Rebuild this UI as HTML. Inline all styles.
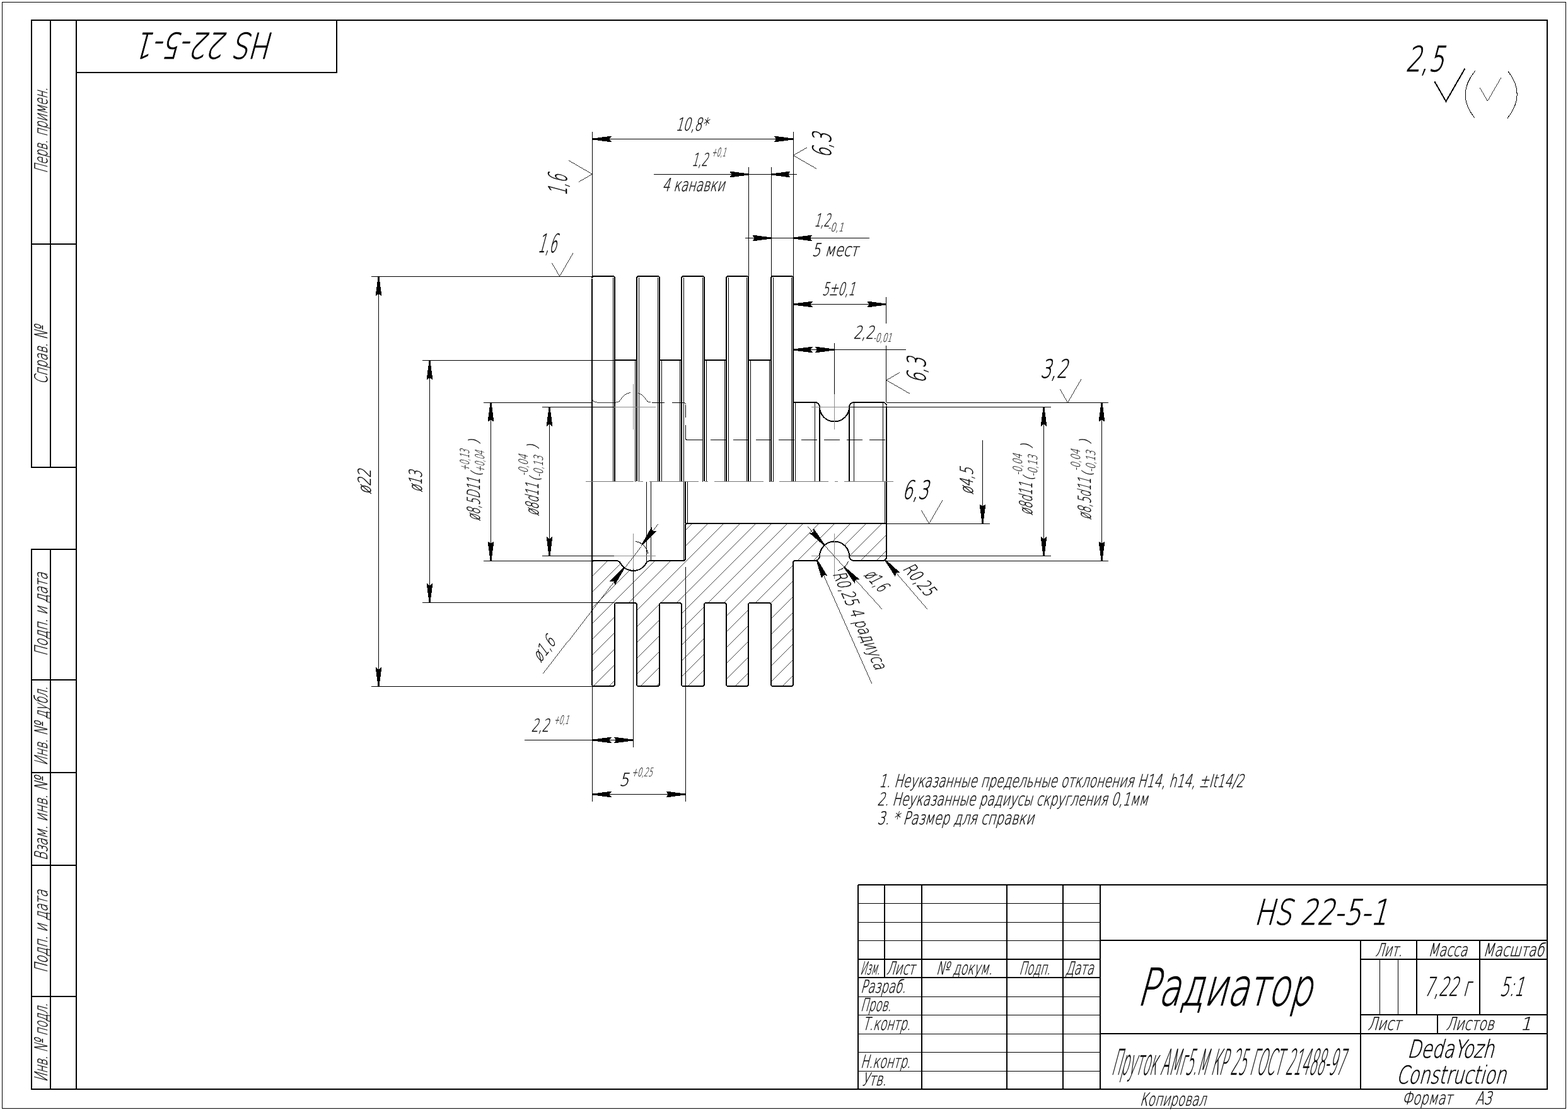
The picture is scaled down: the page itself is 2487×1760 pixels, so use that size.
<!DOCTYPE html>
<html lang="ru"><head><meta charset="utf-8"><title>HS 22-5-1 Радиатор</title>
<style>
html,body{margin:0;padding:0;background:#fff}
body{width:2487px;height:1760px;overflow:hidden}
svg{display:block;filter:grayscale(1)}
svg text{font-family:"DejaVu Sans","Liberation Sans",sans-serif;font-weight:200;fill:#000;stroke:#000}
</style></head><body>
<svg width="2487" height="1760" viewBox="0 0 2487 1760" fill="none" stroke="#000" stroke-width="1">
<rect x="0" y="0" width="2487" height="1760" fill="#fff" stroke="none"/>
<g id="frame" shape-rendering="crispEdges">
<rect x="3.5" y="3.5" width="2480" height="1754"/>
<rect x="121" y="32" width="2333" height="1695" stroke-width="2"/>
<line x1="50" y1="32" x2="50" y2="741" stroke-width="2"/>
<line x1="50" y1="871" x2="50" y2="1727" stroke-width="2"/>
<line x1="80" y1="32" x2="80" y2="741" stroke-width="2"/>
<line x1="80" y1="871" x2="80" y2="1727" stroke-width="2"/>
<line x1="49" y1="32" x2="121" y2="32" stroke-width="2"/>
<line x1="49" y1="387" x2="121" y2="387" stroke-width="2"/>
<line x1="49" y1="741" x2="121" y2="741" stroke-width="2"/>
<line x1="49" y1="871" x2="121" y2="871" stroke-width="2"/>
<line x1="49" y1="1078" x2="121" y2="1078" stroke-width="2"/>
<line x1="49" y1="1225" x2="121" y2="1225" stroke-width="2"/>
<line x1="49" y1="1372" x2="121" y2="1372" stroke-width="2"/>
<line x1="49" y1="1580" x2="121" y2="1580" stroke-width="2"/>
<line x1="49" y1="1727" x2="121" y2="1727" stroke-width="2"/>
<line x1="534" y1="32" x2="534" y2="116" stroke-width="2"/>
<line x1="121" y1="115" x2="535" y2="115" stroke-width="2"/>
<line x1="1361" y1="1403" x2="2454" y2="1403" stroke-width="2"/>
<line x1="1361" y1="1403" x2="1361" y2="1727" stroke-width="2"/>
<line x1="1462" y1="1403" x2="1462" y2="1727" stroke-width="2"/>
<line x1="1597" y1="1403" x2="1597" y2="1727" stroke-width="2"/>
<line x1="1686" y1="1403" x2="1686" y2="1727" stroke-width="2"/>
<line x1="1745" y1="1403" x2="1745" y2="1727" stroke-width="2"/>
<line x1="1403" y1="1403" x2="1403" y2="1550" stroke-width="2"/>
<line x1="1361" y1="1432.5" x2="1745" y2="1432.5"/>
<line x1="1361" y1="1462.5" x2="1745" y2="1462.5"/>
<line x1="1361" y1="1491.5" x2="1745" y2="1491.5"/>
<line x1="1361" y1="1580.5" x2="1745" y2="1580.5"/>
<line x1="1361" y1="1609.5" x2="1745" y2="1609.5"/>
<line x1="1361" y1="1639.5" x2="1745" y2="1639.5"/>
<line x1="1361" y1="1668.5" x2="1745" y2="1668.5"/>
<line x1="1361" y1="1698.5" x2="1745" y2="1698.5"/>
<line x1="1361" y1="1521" x2="1745" y2="1521" stroke-width="2"/>
<line x1="1361" y1="1550" x2="1745" y2="1550" stroke-width="2"/>
<line x1="1745" y1="1491" x2="2454" y2="1491" stroke-width="2"/>
<line x1="1745" y1="1639" x2="2454" y2="1639" stroke-width="2"/>
<line x1="2158" y1="1491" x2="2158" y2="1727" stroke-width="2"/>
<line x1="2158" y1="1521" x2="2454" y2="1521" stroke-width="2"/>
<line x1="2158" y1="1609" x2="2454" y2="1609" stroke-width="2"/>
<line x1="2247" y1="1491" x2="2247" y2="1609" stroke-width="2"/>
<line x1="2347" y1="1491" x2="2347" y2="1609" stroke-width="2"/>
<line x1="2188.5" y1="1521" x2="2188.5" y2="1609"/>
<line x1="2217.5" y1="1521" x2="2217.5" y2="1609"/>
<line x1="2280" y1="1609" x2="2280" y2="1639" stroke-width="2"/>
</g>
<g id="frametext">
<text transform="translate(1364.18,1544.5) skewX(-15)" font-size="28.12" textLength="31.06" lengthAdjust="spacingAndGlyphs" stroke-width="0.4">Изм.</text>
<text transform="translate(1405.68,1544.5) skewX(-15)" font-size="28.12" textLength="44.86" lengthAdjust="spacingAndGlyphs" stroke-width="0.4">Лист</text>
<text transform="translate(1484.78,1544.5) skewX(-15)" font-size="28.12" textLength="88.76" lengthAdjust="spacingAndGlyphs" stroke-width="0.4">№ докум.</text>
<text transform="translate(1616.18,1544.5) skewX(-15)" font-size="28.12" textLength="49.36" lengthAdjust="spacingAndGlyphs" stroke-width="0.4">Подп.</text>
<text transform="translate(1689.38,1544.5) skewX(-15)" font-size="28.12" textLength="44.86" lengthAdjust="spacingAndGlyphs" stroke-width="0.4">Дата</text>
<text transform="translate(1364.68,1574.4) skewX(-15)" font-size="28.12" textLength="71.56" lengthAdjust="spacingAndGlyphs" stroke-width="0.4">Разраб.</text>
<text transform="translate(1364.68,1603.4) skewX(-15)" font-size="28.12" textLength="48.26" lengthAdjust="spacingAndGlyphs" stroke-width="0.4">Пров.</text>
<text transform="translate(1367.98,1633.4) skewX(-15)" font-size="28.12" textLength="75.96" lengthAdjust="spacingAndGlyphs" stroke-width="0.4">Т.контр.</text>
<text transform="translate(1364.68,1692.5) skewX(-15)" font-size="28.12" textLength="79.26" lengthAdjust="spacingAndGlyphs" stroke-width="0.4">Н.контр.</text>
<text transform="translate(1366.88,1721.3) skewX(-15)" font-size="28.12" textLength="38.66" lengthAdjust="spacingAndGlyphs" stroke-width="0.4">Утв.</text>
<text transform="translate(1988.78,1466) skewX(-15)" font-size="55.56" textLength="211.36" lengthAdjust="spacingAndGlyphs" stroke-width="0.9">HS 22-5-1</text>
<text transform="translate(1803.02,1593.5) skewX(-15)" font-size="81.48" textLength="276.75" lengthAdjust="spacingAndGlyphs" stroke-width="1.2">Радиатор</text>
<text transform="translate(1762.26,1703.6) skewX(-15)" font-size="56.24" textLength="368.42" lengthAdjust="spacingAndGlyphs" stroke-width="0.5">Пруток АМг5.М КР 25 ГОСТ 21488-97</text>
<text transform="translate(1807.68,1752.5) skewX(-15)" font-size="28.12" textLength="104.86" lengthAdjust="spacingAndGlyphs" stroke-width="0.4">Копировал</text>
<text transform="translate(2181.18,1515.7) skewX(-15)" font-size="28.12" textLength="42.36" lengthAdjust="spacingAndGlyphs" stroke-width="0.4">Лит.</text>
<text transform="translate(2264.88,1515.7) skewX(-15)" font-size="28.12" textLength="62.16" lengthAdjust="spacingAndGlyphs" stroke-width="0.4">Масса</text>
<text transform="translate(2351.98,1515.7) skewX(-15)" font-size="28.12" textLength="96.56" lengthAdjust="spacingAndGlyphs" stroke-width="0.4">Масштаб</text>
<text transform="translate(2258.5,1578.6) skewX(-15)" font-size="41.15" textLength="73.4" lengthAdjust="spacingAndGlyphs" stroke-width="0.6">7,22 г</text>
<text transform="translate(2378.3,1578.6) skewX(-15)" font-size="41.15" textLength="38.1" lengthAdjust="spacingAndGlyphs" stroke-width="0.6">5:1</text>
<text transform="translate(2168.88,1633.4) skewX(-15)" font-size="28.12" textLength="52.96" lengthAdjust="spacingAndGlyphs" stroke-width="0.4">Лист</text>
<text transform="translate(2293.18,1633.4) skewX(-15)" font-size="28.12" textLength="76.06" lengthAdjust="spacingAndGlyphs" stroke-width="0.4">Листов</text>
<text transform="translate(2411,1633.4) skewX(-15)" font-size="28.12" stroke-width="0.4">1</text>
<text transform="translate(2231.86,1676.6) skewX(-15)" font-size="38.96" textLength="137.33" lengthAdjust="spacingAndGlyphs" stroke-width="0.6">DedaYozh</text>
<text transform="translate(2214.56,1717.6) skewX(-15)" font-size="38.96" textLength="173.63" lengthAdjust="spacingAndGlyphs" stroke-width="0.6">Construction</text>
<text transform="translate(2223.48,1751) skewX(-15)" font-size="28.12" textLength="79.36" lengthAdjust="spacingAndGlyphs" stroke-width="0.4">Формат</text>
<text transform="translate(2339.88,1751) skewX(-15)" font-size="28.12" textLength="25.96" lengthAdjust="spacingAndGlyphs" stroke-width="0.4">А3</text>
<text transform="translate(74.5,274.82) rotate(-90) skewX(-15)" font-size="28.12" textLength="135.76" lengthAdjust="spacingAndGlyphs" stroke-width="0.4">Перв. примен.</text>
<text transform="translate(74.5,609.32) rotate(-90) skewX(-15)" font-size="28.12" textLength="92.46" lengthAdjust="spacingAndGlyphs" stroke-width="0.4">Справ. №</text>
<text transform="translate(74.5,1040.32) rotate(-90) skewX(-15)" font-size="28.12" textLength="132.46" lengthAdjust="spacingAndGlyphs" stroke-width="0.4">Подп. и дата</text>
<text transform="translate(74.5,1213.82) rotate(-90) skewX(-15)" font-size="28.12" textLength="125.16" lengthAdjust="spacingAndGlyphs" stroke-width="0.4">Инв. № дубл.</text>
<text transform="translate(74.5,1364.42) rotate(-90) skewX(-15)" font-size="28.12" textLength="132.46" lengthAdjust="spacingAndGlyphs" stroke-width="0.4">Взам. инв. №</text>
<text transform="translate(74.5,1542.62) rotate(-90) skewX(-15)" font-size="28.12" textLength="131.26" lengthAdjust="spacingAndGlyphs" stroke-width="0.4">Подп. и дата</text>
<text transform="translate(74.5,1715.52) rotate(-90) skewX(-15)" font-size="28.12" textLength="124.66" lengthAdjust="spacingAndGlyphs" stroke-width="0.4">Инв. № подл.</text>
<text transform="translate(435.82,52) rotate(180) skewX(-15)" font-size="56.24" textLength="214.27" lengthAdjust="spacingAndGlyphs" stroke-width="0.9">HS 22-5-1</text>
<text transform="translate(1394.08,1247.8) skewX(-15)" font-size="28.12" textLength="578.06" lengthAdjust="spacingAndGlyphs" stroke-width="0.4">1. Неуказанные предельные отклонения H14, h14, ±It14/2</text>
<text transform="translate(1391.18,1277) skewX(-15)" font-size="28.12" textLength="429.36" lengthAdjust="spacingAndGlyphs" stroke-width="0.4">2. Неуказанные радиусы скругления 0,1мм</text>
<text transform="translate(1391.18,1306.8) skewX(-15)" font-size="28.12" textLength="248.36" lengthAdjust="spacingAndGlyphs" stroke-width="0.4">3.  * Размер для справки</text>
</g>
<g id="part" shape-rendering="crispEdges">
<clipPath id="sec"><path d="M939,892 A3,3 0 0 1 942,889 L977,889 A7.38,7.38 0 0 1 984,893 A23.62,23.62 0 0 0 1025,893 A7.38,7.38 0 0 1 1032,889 L1084,889 A3,3 0 0 0 1087,886 L1087,833 A3,3 0 0 1 1090,830 L1403,830 A3,3 0 0 1 1406,833 L1406,883 A5.91,5.91 0 0 1 1400,889 L1354,889 A7.38,7.38 0 0 1 1347,882 A23,23 0 0 0 1300,882 A7.38,7.38 0 0 1 1292,889 L1261,889 A3,3 0 0 0 1258,892 L1258,1085 A3,3 0 0 1 1255,1088 L1226,1088 A3,3 0 0 1 1223,1085 L1223,958 A3,3 0 0 0 1220,956 L1190,956 A3,3 0 0 0 1187,958 L1187,1085 A3,3 0 0 1 1184,1088 L1155,1088 A3,3 0 0 1 1152,1085 L1152,958 A3,3 0 0 0 1149,956 L1120,956 A3,3 0 0 0 1117,958 L1117,1085 A3,3 0 0 1 1114,1088 L1084,1088 A3,3 0 0 1 1081,1085 L1081,958 A3,3 0 0 0 1078,956 L1049,956 A3,3 0 0 0 1046,958 L1046,1085 A3,3 0 0 1 1043,1088 L1013,1088 A3,3 0 0 1 1010,1085 L1010,958 A3,3 0 0 0 1007,956 L978,956 A3,3 0 0 0 975,958 L975,1085 A3,3 0 0 1 972,1088 L942,1088 A3,3 0 0 1 939,1085 Z"/></clipPath>
<g clip-path="url(#sec)">
<path d="M837.68,815 L557.68,1095 M862.74,815 L582.74,1095 M887.8,815 L607.8,1095 M912.86,815 L632.86,1095 M937.92,815 L657.92,1095 M962.98,815 L682.98,1095 M988.04,815 L708.04,1095 M1013.1,815 L733.1,1095 M1038.16,815 L758.16,1095 M1063.22,815 L783.22,1095 M1088.28,815 L808.28,1095 M1113.34,815 L833.34,1095 M1138.4,815 L858.4,1095 M1163.46,815 L883.46,1095 M1188.52,815 L908.52,1095 M1213.58,815 L933.58,1095 M1238.64,815 L958.64,1095 M1263.7,815 L983.7,1095 M1288.76,815 L1008.76,1095 M1313.82,815 L1033.82,1095 M1338.88,815 L1058.88,1095 M1363.94,815 L1083.94,1095 M1389,815 L1109,1095 M1414.06,815 L1134.06,1095 M1439.12,815 L1159.12,1095 M1464.18,815 L1184.18,1095 M1489.24,815 L1209.24,1095 M1514.3,815 L1234.3,1095 M1539.36,815 L1259.36,1095 M1564.42,815 L1284.42,1095 M1589.48,815 L1309.48,1095 M1614.54,815 L1334.54,1095 M1639.6,815 L1359.6,1095 M1664.66,815 L1384.66,1095 M1689.72,815 L1409.72,1095 M1714.78,815 L1434.78,1095 M1739.84,815 L1459.84,1095 M1764.9,815 L1484.9,1095 M1789.96,815 L1509.96,1095 M1815.02,815 L1535.02,1095 M1840.08,815 L1560.08,1095 M1865.14,815 L1585.14,1095" fill="none" stroke-width="0.72"/>
</g>
<path d="M939,892 A3,3 0 0 1 942,889 L977,889 A7.38,7.38 0 0 1 984,893 A23.62,23.62 0 0 0 1025,893 A7.38,7.38 0 0 1 1032,889 L1084,889 A3,3 0 0 0 1087,886 L1087,833 A3,3 0 0 1 1090,830 L1403,830 A3,3 0 0 1 1406,833 L1406,883 A5.91,5.91 0 0 1 1400,889 L1354,889 A7.38,7.38 0 0 1 1347,882 A23,23 0 0 0 1300,882 A7.38,7.38 0 0 1 1292,889 L1261,889 A3,3 0 0 0 1258,892 L1258,1085 A3,3 0 0 1 1255,1088 L1226,1088 A3,3 0 0 1 1223,1085 L1223,958 A3,3 0 0 0 1220,956 L1190,956 A3,3 0 0 0 1187,958 L1187,1085 A3,3 0 0 1 1184,1088 L1155,1088 A3,3 0 0 1 1152,1085 L1152,958 A3,3 0 0 0 1149,956 L1120,956 A3,3 0 0 0 1117,958 L1117,1085 A3,3 0 0 1 1114,1088 L1084,1088 A3,3 0 0 1 1081,1085 L1081,958 A3,3 0 0 0 1078,956 L1049,956 A3,3 0 0 0 1046,958 L1046,1085 A3,3 0 0 1 1043,1088 L1013,1088 A3,3 0 0 1 1010,1085 L1010,958 A3,3 0 0 0 1007,956 L978,956 A3,3 0 0 0 975,958 L975,1085 A3,3 0 0 1 972,1088 L942,1088 A3,3 0 0 1 939,1085 Z" fill="none" stroke-width="2" stroke-linejoin="round"/>
<line x1="939" y1="441.75" x2="939" y2="892.04" stroke-width="2"/>
<path d="M939,441 A3,3 0 0 1 942,438" fill="none" stroke-width="2"/>
<path d="M942,438 L972,438 A3,3 0 0 1 975,441 L975,763" fill="none" stroke-width="2"/>
<line x1="972.5" y1="439.8" x2="972.5" y2="763.6"/>
<line x1="974.83" y1="571" x2="1010.27" y2="571" stroke-width="2"/>
<line x1="1007.5" y1="571.67" x2="1007.5" y2="763.6"/>
<path d="M1010,763 L1010,441 A3,3 0 0 1 1013,438 L1043,438 A3,3 0 0 1 1046,441 L1046,763" fill="none" stroke-width="2"/>
<line x1="1013.5" y1="439.8" x2="1013.5" y2="763.6"/>
<line x1="1043.5" y1="439.8" x2="1043.5" y2="763.6"/>
<line x1="1045.7" y1="571" x2="1081.13" y2="571" stroke-width="2"/>
<line x1="1049.5" y1="571.67" x2="1049.5" y2="763.6"/>
<line x1="1078.5" y1="571.67" x2="1078.5" y2="763.6"/>
<path d="M1081,763 L1081,441 A3,3 0 0 1 1084,438 L1114,438 A3,3 0 0 1 1117,441 L1117,763" fill="none" stroke-width="2"/>
<line x1="1084.5" y1="439.8" x2="1084.5" y2="763.6"/>
<line x1="1114.5" y1="439.8" x2="1114.5" y2="763.6"/>
<line x1="1116.57" y1="571" x2="1152" y2="571" stroke-width="2"/>
<line x1="1120.5" y1="571.67" x2="1120.5" y2="763.6"/>
<line x1="1149.5" y1="571.67" x2="1149.5" y2="763.6"/>
<path d="M1152,763 L1152,441 A3,3 0 0 1 1155,438 L1184,438 A3,3 0 0 1 1187,441 L1187,763" fill="none" stroke-width="2"/>
<line x1="1155.5" y1="439.8" x2="1155.5" y2="763.6"/>
<line x1="1184.5" y1="439.8" x2="1184.5" y2="763.6"/>
<line x1="1187.43" y1="571" x2="1222.86" y2="571" stroke-width="2"/>
<line x1="1190.5" y1="571.67" x2="1190.5" y2="763.6"/>
<line x1="1220.5" y1="571.67" x2="1220.5" y2="763.6"/>
<path d="M1223,763 L1223,441 A3,3 0 0 1 1226,438 L1255,438 A3,3 0 0 1 1258,441 L1258,763" fill="none" stroke-width="2"/>
<line x1="1226.5" y1="439.8" x2="1226.5" y2="763.6"/>
<line x1="1255.5" y1="439.8" x2="1255.5" y2="763.6"/>
<path d="M1258,638 L1292,638 A7.38,7.38 0 0 1 1300,645 A23,23 0 0 0 1347,645 A7.38,7.38 0 0 1 1354,638 L1400,638 A5.91,5.91 0 0 1 1406,643" fill="none" stroke-width="2"/>
<line x1="1406" y1="644.01" x2="1406" y2="832.99" stroke-width="2"/>
<line x1="1300" y1="645.49" x2="1300" y2="763.6" stroke-width="2"/>
<line x1="1347" y1="645.49" x2="1347" y2="763.6" stroke-width="2"/>
<line x1="1261.5" y1="638.11" x2="1261.5" y2="763.6"/>
<line x1="1292.5" y1="638.11" x2="1292.5" y2="763.6"/>
<line x1="1354.5" y1="638.11" x2="1354.5" y2="763.6"/>
<line x1="1400.5" y1="638.11" x2="1400.5" y2="763.6"/>
<path d="M939,630 A7.38,7.38 0 0 0 947,638 L977,638 A7.38,7.38 0 0 0 984,634 A23.62,23.62 0 0 1 1000.26,622.23" fill="none" stroke-width="0.8"/>
<path d="M1011.66,623.02 A23.62,23.62 0 0 1 1025,634 A7.38,7.38 0 0 0 1032,638" fill="none" stroke-width="0.8"/>
<line x1="1034" y1="638.5" x2="1053.5" y2="638.5"/>
<path d="M1065.5,638.5 L1084.64,638.5 A3,3 0 0 1 1087.5,641.5" fill="none"/>
<line x1="1087.5" y1="641.5" x2="1087.5" y2="662.2"/>
<path d="M1087.5,673.5 L1087.5,694.5 A3,3 0 0 0 1090.5,697.5 L1114.5,697.5" fill="none"/>
<line x1="1126.6" y1="697.5" x2="1404" y2="697.5" stroke-dasharray="24.6 11.5"/>
<line x1="1025.5" y1="763.6" x2="1025.5" y2="891.09"/>
<line x1="1032.5" y1="763.6" x2="1032.5" y2="889.09"/>
<line x1="1084.5" y1="763.6" x2="1084.5" y2="889.09"/>
<line x1="1087" y1="763.6" x2="1087" y2="830.04" stroke-width="2"/>
<line x1="1090.5" y1="763.6" x2="1090.5" y2="830.04"/>
<line x1="1403.5" y1="763.6" x2="1403.5" y2="830.04"/>
<line x1="968.36" y1="645.5" x2="1040.36" y2="645.5" stroke="#8c8c8c"/>
<line x1="1004.5" y1="609.49" x2="1004.5" y2="681.49" stroke="#8c8c8c"/>
<line x1="968.36" y1="881.5" x2="1040.36" y2="881.5" stroke="#8c8c8c"/>
<line x1="1004.5" y1="845.71" x2="1004.5" y2="917.71" stroke="#8c8c8c"/>
<line x1="1287.26" y1="645.5" x2="1359.26" y2="645.5" stroke="#8c8c8c"/>
<line x1="1323.5" y1="609.49" x2="1323.5" y2="681.49" stroke="#8c8c8c"/>
<line x1="1287.26" y1="881.5" x2="1359.26" y2="881.5" stroke="#8c8c8c"/>
<line x1="1323.5" y1="845.71" x2="1323.5" y2="917.71" stroke="#8c8c8c"/>
<line x1="929" y1="763.5" x2="1418.5" y2="763.5" stroke="#777" stroke-dasharray="78 10 5 10" stroke-dashoffset="2"/>
</g>
<g id="dims" shape-rendering="crispEdges">
<line x1="939.5" y1="209" x2="939.5" y2="438.8"/>
<line x1="1258.5" y1="209" x2="1258.5" y2="438.8"/>
<line x1="939.4" y1="220.5" x2="1258.3" y2="220.5"/>
<polygon points="939.9,219.5 970.4,215.5 966.9,220 966.9,221 970.4,225.5 939.9,221.5" fill="#000" stroke="none"/>
<polygon points="1257.8,221.5 1227.3,225.5 1230.8,221 1230.8,220 1227.3,215.5 1257.8,219.5" fill="#000" stroke="none"/>
<text transform="translate(1071.48,206.7) skewX(-15)" font-size="28.12" textLength="50.76" lengthAdjust="spacingAndGlyphs" stroke-width="0.4">10,8*</text>
<line x1="1187.5" y1="264.8" x2="1187.5" y2="438.8"/>
<line x1="1223.5" y1="264.8" x2="1223.5" y2="438.8"/>
<line x1="1036.9" y1="276.5" x2="1264" y2="276.5"/>
<polygon points="1187.43,277.5 1156.93,281.5 1160.43,277 1160.43,276 1156.93,271.5 1187.43,275.5" fill="#000" stroke="none"/>
<polygon points="1223.46,275.5 1253.96,271.5 1250.46,276 1250.46,277 1253.96,281.5 1223.46,277.5" fill="#000" stroke="none"/>
<text transform="translate(1096.98,262.5) skewX(-15)" font-size="28.12" textLength="25.26" lengthAdjust="spacingAndGlyphs" stroke-width="0.4">1,2</text>
<text transform="translate(1128.45,247.8) skewX(-15)" font-size="18.93" textLength="22.62" lengthAdjust="spacingAndGlyphs" stroke-width="0.15">+0,1</text>
<text transform="translate(1050.18,303) skewX(-15)" font-size="28.12" textLength="98.96" lengthAdjust="spacingAndGlyphs" stroke-width="0.4">4 канавки</text>
<line x1="1182.2" y1="377.5" x2="1379" y2="377.5"/>
<polygon points="1223.46,378.5 1192.96,382.5 1196.46,378 1196.46,377 1192.96,372.5 1223.46,376.5" fill="#000" stroke="none"/>
<polygon points="1258.3,376.5 1288.8,372.5 1285.3,377 1285.3,378 1288.8,382.5 1258.3,378.5" fill="#000" stroke="none"/>
<text transform="translate(1291.18,358.8) skewX(-15)" font-size="28.12" textLength="24.96" lengthAdjust="spacingAndGlyphs" stroke-width="0.4">1,2</text>
<text transform="translate(1312.45,367) skewX(-15)" font-size="18.93" textLength="25.22" lengthAdjust="spacingAndGlyphs" stroke-width="0.15">-0,1</text>
<text transform="translate(1287.58,405.7) skewX(-15)" font-size="28.12" textLength="73.26" lengthAdjust="spacingAndGlyphs" stroke-width="0.4">5 мест</text>
<line x1="1405.5" y1="471" x2="1405.5" y2="513"/>
<line x1="1405.5" y1="548" x2="1405.5" y2="638.11"/>
<line x1="1258.3" y1="482.5" x2="1405.94" y2="482.5"/>
<polygon points="1258.8,481.5 1289.3,477.5 1285.8,482 1285.8,483 1289.3,487.5 1258.8,483.5" fill="#000" stroke="none"/>
<polygon points="1405.44,483.5 1374.94,487.5 1378.44,483 1378.44,482 1374.94,477.5 1405.44,481.5" fill="#000" stroke="none"/>
<text transform="translate(1303.78,468.2) skewX(-15)" font-size="28.12" textLength="52.16" lengthAdjust="spacingAndGlyphs" stroke-width="0.4">5±0,1</text>
<line x1="1323.5" y1="543.9" x2="1323.5" y2="625.49"/>
<line x1="1258.3" y1="554.5" x2="1437.2" y2="554.5"/>
<polygon points="1258.8,553.5 1289.3,549.5 1285.8,554 1285.8,555 1289.3,559.5 1258.8,555.5" fill="#000" stroke="none"/>
<polygon points="1322.76,555.5 1292.26,559.5 1295.76,555 1295.76,554 1292.26,549.5 1322.76,553.5" fill="#000" stroke="none"/>
<text transform="translate(1353.38,536.8) skewX(-15)" font-size="28.12" textLength="32.36" lengthAdjust="spacingAndGlyphs" stroke-width="0.4">2,2</text>
<text transform="translate(1384.45,542.4) skewX(-15)" font-size="18.93" textLength="29.62" lengthAdjust="spacingAndGlyphs" stroke-width="0.15">-0,01</text>
<line x1="939.5" y1="1088.4" x2="939.5" y2="1270.7"/>
<line x1="1087.5" y1="899.09" x2="1087.5" y2="1270.7"/>
<line x1="1004.5" y1="901.71" x2="1004.5" y2="1184.5"/>
<line x1="832.3" y1="1173.5" x2="1004.36" y2="1173.5"/>
<polygon points="939.9,1172.5 970.4,1168.5 966.9,1173 966.9,1174 970.4,1178.5 939.9,1174.5" fill="#000" stroke="none"/>
<polygon points="1003.86,1174.5 973.36,1178.5 976.86,1174 976.86,1173 973.36,1168.5 1003.86,1172.5" fill="#000" stroke="none"/>
<text transform="translate(842.58,1159.9) skewX(-15)" font-size="28.12" textLength="27.96" lengthAdjust="spacingAndGlyphs" stroke-width="0.4">2,2</text>
<text transform="translate(878.55,1147.5) skewX(-15)" font-size="18.93" textLength="23.22" lengthAdjust="spacingAndGlyphs" stroke-width="0.15">+0,1</text>
<line x1="939.4" y1="1259.5" x2="1087.04" y2="1259.5"/>
<polygon points="939.9,1258.5 970.4,1254.5 966.9,1259 966.9,1260 970.4,1264.5 939.9,1260.5" fill="#000" stroke="none"/>
<polygon points="1086.54,1260.5 1056.04,1264.5 1059.54,1260 1059.54,1259 1056.04,1254.5 1086.54,1258.5" fill="#000" stroke="none"/>
<text transform="translate(982,1246) skewX(-15)" font-size="28.12" textLength="15" lengthAdjust="spacingAndGlyphs" stroke-width="0.4">5</text>
<text transform="translate(1001.75,1231.3) skewX(-15)" font-size="18.93" textLength="33.02" lengthAdjust="spacingAndGlyphs" stroke-width="0.15">+0,25</text>
<line x1="588.8" y1="438.5" x2="939.4" y2="438.5"/>
<line x1="588.8" y1="1088.5" x2="939.4" y2="1088.5"/>
<line x1="600.5" y1="438.8" x2="600.5" y2="1088.4"/>
<polygon points="601.5,439.3 605.5,469.8 601,466.3 600,466.3 595.5,469.8 599.5,439.3" fill="#000" stroke="none"/>
<polygon points="599.5,1087.9 595.5,1057.4 600,1060.9 601,1060.9 605.5,1057.4 601.5,1087.9" fill="#000" stroke="none"/>
<line x1="670.2" y1="571.5" x2="974.83" y2="571.5"/>
<line x1="670.2" y1="955.5" x2="974.83" y2="955.5"/>
<line x1="681.5" y1="571.67" x2="681.5" y2="955.53"/>
<polygon points="682.5,572.17 686.5,602.67 682,599.17 681,599.17 676.5,602.67 680.5,572.17" fill="#000" stroke="none"/>
<polygon points="680.5,955.03 676.5,924.53 681,928.03 682,928.03 686.5,924.53 682.5,955.03" fill="#000" stroke="none"/>
<line x1="766.7" y1="638.5" x2="939.4" y2="638.5"/>
<line x1="766.7" y1="889.5" x2="939.4" y2="889.5"/>
<line x1="778.5" y1="638.11" x2="778.5" y2="889.09"/>
<polygon points="779.5,638.61 783.5,669.11 779,665.61 778,665.61 773.5,669.11 777.5,638.61" fill="#000" stroke="none"/>
<polygon points="777.5,888.59 773.5,858.09 778,861.59 779,861.59 783.5,858.09 779.5,888.59" fill="#000" stroke="none"/>
<line x1="859.8" y1="645.5" x2="974.36" y2="645.5"/>
<line x1="859.8" y1="881.5" x2="974.36" y2="881.5"/>
<line x1="871.5" y1="645.49" x2="871.5" y2="881.71"/>
<polygon points="872.5,645.99 876.5,676.49 872,672.99 871,672.99 866.5,676.49 870.5,645.99" fill="#000" stroke="none"/>
<polygon points="870.5,881.21 866.5,850.71 871,854.21 872,854.21 876.5,850.71 872.5,881.21" fill="#000" stroke="none"/>
<text transform="translate(587.7,783.82) rotate(-90) skewX(-15)" font-size="28.12" textLength="39.36" lengthAdjust="spacingAndGlyphs" stroke-width="0.4">ø22</text>
<text transform="translate(668.6,780.52) rotate(-90) skewX(-15)" font-size="28.12" textLength="33.86" lengthAdjust="spacingAndGlyphs" stroke-width="0.4">ø13</text>
<text transform="translate(760.7,826) rotate(-90) skewX(-15)" font-size="28.12" textLength="68" lengthAdjust="spacingAndGlyphs" stroke-width="0.4">ø8,5D11</text>
<text transform="translate(762.7,756) rotate(-90) skewX(-15)" font-size="21.93" stroke-width="0.2">(</text>
<text transform="translate(744.2,747) rotate(-90) skewX(-15)" font-size="19.89" textLength="34" lengthAdjust="spacingAndGlyphs" stroke-width="0.15">+0,13</text>
<text transform="translate(768.2,749) rotate(-90) skewX(-15)" font-size="19.89" textLength="34" lengthAdjust="spacingAndGlyphs" stroke-width="0.15">+0,04</text>
<text transform="translate(758.7,705) rotate(-90) skewX(-15)" font-size="21.93" stroke-width="0.2">)</text>
<text transform="translate(853.8,818) rotate(-90) skewX(-15)" font-size="28.12" textLength="52" lengthAdjust="spacingAndGlyphs" stroke-width="0.4">ø8d11</text>
<text transform="translate(855.8,764) rotate(-90) skewX(-15)" font-size="21.93" stroke-width="0.2">(</text>
<text transform="translate(837.3,755) rotate(-90) skewX(-15)" font-size="19.89" textLength="34" lengthAdjust="spacingAndGlyphs" stroke-width="0.15">-0,04</text>
<text transform="translate(861.3,757) rotate(-90) skewX(-15)" font-size="19.89" textLength="34" lengthAdjust="spacingAndGlyphs" stroke-width="0.15">-0,13</text>
<text transform="translate(851.8,713) rotate(-90) skewX(-15)" font-size="21.93" stroke-width="0.2">)</text>
<line x1="1405.94" y1="638.5" x2="1757.9" y2="638.5"/>
<line x1="1405.94" y1="889.5" x2="1757.9" y2="889.5"/>
<line x1="1747.5" y1="638.11" x2="1747.5" y2="889.09"/>
<polygon points="1748.5,638.61 1752.5,669.11 1748,665.61 1747,665.61 1742.5,669.11 1746.5,638.61" fill="#000" stroke="none"/>
<polygon points="1746.5,888.59 1742.5,858.09 1747,861.59 1748,861.59 1752.5,858.09 1748.5,888.59" fill="#000" stroke="none"/>
<line x1="1346.88" y1="645.5" x2="1667.1" y2="645.5"/>
<line x1="1346.88" y1="881.5" x2="1667.1" y2="881.5"/>
<line x1="1655.5" y1="645.49" x2="1655.5" y2="881.71"/>
<polygon points="1656.5,645.99 1660.5,676.49 1656,672.99 1655,672.99 1650.5,676.49 1654.5,645.99" fill="#000" stroke="none"/>
<polygon points="1654.5,881.21 1650.5,850.71 1655,854.21 1656,854.21 1660.5,850.71 1656.5,881.21" fill="#000" stroke="none"/>
<line x1="1405.94" y1="830.5" x2="1569.5" y2="830.5"/>
<line x1="1558.5" y1="698" x2="1558.5" y2="830.04"/>
<polygon points="1557.5,829.54 1553.5,799.04 1558,802.54 1559,802.54 1563.5,799.04 1559.5,829.54" fill="#000" stroke="none"/>
<text transform="translate(1543,784.22) rotate(-90) skewX(-15)" font-size="28.12" textLength="42.76" lengthAdjust="spacingAndGlyphs" stroke-width="0.4">ø4,5</text>
<text transform="translate(1637.4,817) rotate(-90) skewX(-15)" font-size="28.12" textLength="52" lengthAdjust="spacingAndGlyphs" stroke-width="0.4">ø8d11</text>
<text transform="translate(1639.4,763) rotate(-90) skewX(-15)" font-size="21.93" stroke-width="0.2">(</text>
<text transform="translate(1620.9,754) rotate(-90) skewX(-15)" font-size="19.89" textLength="34" lengthAdjust="spacingAndGlyphs" stroke-width="0.15">-0,04</text>
<text transform="translate(1644.9,756) rotate(-90) skewX(-15)" font-size="19.89" textLength="34" lengthAdjust="spacingAndGlyphs" stroke-width="0.15">-0,13</text>
<text transform="translate(1635.4,712) rotate(-90) skewX(-15)" font-size="21.93" stroke-width="0.2">)</text>
<text transform="translate(1729.8,824) rotate(-90) skewX(-15)" font-size="28.12" textLength="66" lengthAdjust="spacingAndGlyphs" stroke-width="0.4">ø8,5d11</text>
<text transform="translate(1731.8,756) rotate(-90) skewX(-15)" font-size="21.93" stroke-width="0.2">(</text>
<text transform="translate(1713.3,747) rotate(-90) skewX(-15)" font-size="19.89" textLength="34" lengthAdjust="spacingAndGlyphs" stroke-width="0.15">-0,04</text>
<text transform="translate(1737.3,749) rotate(-90) skewX(-15)" font-size="19.89" textLength="34" lengthAdjust="spacingAndGlyphs" stroke-width="0.15">-0,13</text>
<text transform="translate(1727.8,705) rotate(-90) skewX(-15)" font-size="21.93" stroke-width="0.2">)</text>
<path d="M875.19,416.7 L887.6,438.2 L908.96,401.2" fill="none" stroke-width="0.8"/>
<text transform="translate(852.82,400) skewX(-15)" font-size="40.47" textLength="29.64" lengthAdjust="spacingAndGlyphs" stroke-width="0.6">1,6</text>
<path d="M917.9,288.51 L939.4,276.1 L902.4,254.74" fill="none" stroke-width="0.8"/>
<text transform="translate(898.5,310.18) rotate(-90) skewX(-15)" font-size="40.47" textLength="32.64" lengthAdjust="spacingAndGlyphs" stroke-width="0.6">1,6</text>
<path d="M1279.8,233.99 L1258.3,246.4 L1295.3,267.76" fill="none" stroke-width="0.8"/>
<text transform="translate(1317.5,250.38) rotate(-90) skewX(-15)" font-size="40.47" textLength="38.64" lengthAdjust="spacingAndGlyphs" stroke-width="0.6">6,3</text>
<path d="M1427.44,590.39 L1405.94,602.8 L1442.94,624.16" fill="none" stroke-width="0.8"/>
<text transform="translate(1468,607.98) rotate(-90) skewX(-15)" font-size="40.47" textLength="40.44" lengthAdjust="spacingAndGlyphs" stroke-width="0.6">6,3</text>
<path d="M1681.09,616.9 L1693.5,638.4 L1714.86,601.4" fill="none" stroke-width="0.8"/>
<text transform="translate(1649.82,598.6) skewX(-15)" font-size="40.47" textLength="42.64" lengthAdjust="spacingAndGlyphs" stroke-width="0.6">3,2</text>
<path d="M1461.19,808.7 L1473.6,830.2 L1494.96,793.2" fill="none" stroke-width="0.8"/>
<text transform="translate(1430.82,790.5) skewX(-15)" font-size="40.47" textLength="41.14" lengthAdjust="spacingAndGlyphs" stroke-width="0.6">6,3</text>
<path d="M2275.37,129.3 L2293.5,160.7 L2323.52,108.7" fill="none" stroke-width="2"/>
<text transform="translate(2228.99,113.4) skewX(-15)" font-size="55.14" textLength="60.28" lengthAdjust="spacingAndGlyphs" stroke-width="0.9">2,5</text>
<path d="M2347.28,139.3 L2359.4,160.3 L2380.76,123.3" fill="none" stroke-width="0.8"/>
<path d="M2339.8,112.2 Q2309,150 2338.6,186.6" fill="none"/>
<path d="M2392,113 Q2421,150 2391,187.5" fill="none"/>
<path d="M861,1068.4 L1043.8,831" fill="none" stroke-width="0.8"/>
<polygon points="990.74,901.04 975.3,927.64 973.87,922.12 973.08,921.51 967.38,921.54 989.16,899.82" fill="#000" stroke="none"/>
<polygon points="1017.98,862.38 1033.42,835.78 1034.85,841.3 1035.64,841.91 1041.34,841.88 1019.57,863.6" fill="#000" stroke="none"/>
<path d="M1008.46,858.45 A23.62,23.62 0 0 1 1027.62,877.61" fill="none"/>
<text transform="translate(857.5,1051) rotate(-52.4) skewX(-15)" font-size="28.12" textLength="41" lengthAdjust="spacingAndGlyphs" stroke-width="0.4">ø1,6</text>
<path d="M1280.7,834.7 L1398.8,965.7" fill="none" stroke-width="0.8"/>
<polygon points="1306.71,864.82 1283.33,844.84 1289.01,844.43 1289.76,843.76 1290.76,838.14 1308.2,863.49" fill="#000" stroke="none"/>
<polygon points="1339.81,898.6 1363.19,918.59 1357.5,919 1356.76,919.66 1355.76,925.28 1338.32,899.93" fill="#000" stroke="none"/>
<path d="M1345.46,889.79 A23.62,23.62 0 0 1 1329.37,904.53" fill="none"/>
<text transform="translate(1370,912) rotate(48) skewX(-15)" font-size="28.12" textLength="38" lengthAdjust="spacingAndGlyphs" stroke-width="0.4">ø1,6</text>
<path d="M1295.3,887.2 L1382.8,1083.8" fill="none" stroke-width="0.8"/>
<polygon points="1296.21,886.79 1312.27,913.03 1306.74,911.66 1305.82,912.07 1303.13,917.1 1294.39,887.61" fill="#000" stroke="none"/>
<text transform="translate(1320.5,910) rotate(66.01) skewX(-15)" font-size="28.12" textLength="168" lengthAdjust="spacingAndGlyphs" stroke-width="0.4">R0,25 4 радиуса</text>
<path d="M1404,888.1 L1470.7,965.7" fill="none" stroke-width="0.8"/>
<polygon points="1404.76,887.45 1427.67,907.97 1421.98,908.25 1421.22,908.9 1420.09,914.49 1403.24,888.75" fill="#000" stroke="none"/>
<text transform="translate(1431,902) rotate(49.32) skewX(-15)" font-size="28.12" textLength="60" lengthAdjust="spacingAndGlyphs" stroke-width="0.4">R0,25</text>
</g>
</svg>
</body></html>
